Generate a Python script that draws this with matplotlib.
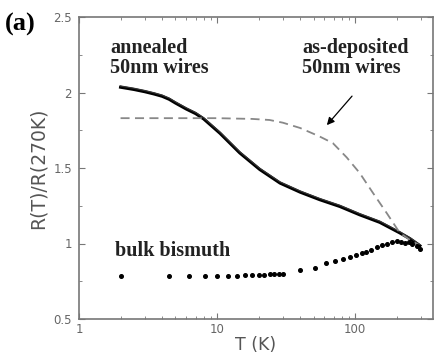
import numpy as np
import matplotlib.pyplot as plt
from matplotlib.ticker import MultipleLocator, NullFormatter

# annealed 50nm wires (solid)
t_ann = [2, 2.5, 3, 3.5, 4, 4.5, 5, 6, 7, 8, 10.5, 14.6, 20.4, 28.6, 40, 55.5, 77.6, 108, 151, 211, 251, 295]
r_ann = [2.035, 2.02, 2.005, 1.99, 1.975, 1.955, 1.93, 1.89, 1.86, 1.825, 1.73, 1.60, 1.49, 1.40, 1.34, 1.29,
         1.245, 1.19, 1.14, 1.07, 1.03, 0.985]

# as-deposited 50nm wires (dashed)
t_dep = [2, 5, 10, 18, 24, 30, 40, 55, 69, 87, 108, 135, 170, 211, 251, 290]
r_dep = [1.83, 1.83, 1.83, 1.825, 1.818, 1.80, 1.765, 1.71, 1.665, 1.57, 1.467, 1.334, 1.20, 1.07, 1.023, 0.99]

# bulk bismuth (dots)
t_bulk = [2, 4.5, 6.3, 8.2, 10, 12, 14, 16, 18, 20, 22, 24, 26, 28, 30,
          40, 51, 62, 72, 82, 92, 101, 112, 121, 131, 143, 156, 170, 185, 200,
          215, 230, 245, 260, 280, 295]
r_bulk = [0.785, 0.785, 0.785, 0.785, 0.785, 0.785, 0.787, 0.789, 0.79, 0.792, 0.793, 0.795, 0.797, 0.799, 0.80,
          0.825, 0.84, 0.87, 0.886, 0.90, 0.91, 0.922, 0.935, 0.945, 0.96, 0.975, 0.99, 1.0, 1.01, 1.015,
          1.01, 1.005, 1.01, 1.0, 0.985, 0.965]

fig = plt.figure(figsize=(4.38, 3.54), dpi=100)
ax = fig.add_axes([79/438, 1 - 319/354, (433-79)/438, (319-17)/354])

grey = '#777777'
ax.plot(t_ann, r_ann, color='black', lw=2.2, solid_joinstyle='round')
ax.plot(t_ann, np.array(r_ann) + 0.008, color='#333333', lw=0.9)
ax.plot(t_dep, r_dep, color='#888888', lw=1.3, dashes=(5, 3))
ax.plot(t_bulk, r_bulk, 'o', color='black', ms=2.6, mec='black')

ax.set_xscale('log')
ax.set_xlim(1, 367)
ax.set_ylim(0.5, 2.5)
ax.yaxis.set_minor_locator(MultipleLocator(0.25))
ax.set_yticks([0.5, 1, 1.5, 2, 2.5])
ax.set_yticklabels(['0.5', '1', '1.5', '2', '2.5'])
ax.set_xticks([1, 10, 100])
ax.set_xticklabels(['1', '10', '100'])
ax.xaxis.set_minor_formatter(NullFormatter())

for s in ax.spines.values():
    s.set_color(grey)
    s.set_linewidth(1.2)
ax.tick_params(which='both', direction='in', top=True, right=True, color=grey,
               labelcolor='#666666', labelsize=8.5, pad=5)
ax.tick_params(axis='x', pad=3)
ax.tick_params(which='major', length=4)
ax.tick_params(which='minor', length=2.5)

ax.set_xlabel('T (K)', fontsize=12.5, color='#555555', labelpad=0)
ax.set_ylabel('R(T)/R(270K)', fontsize=13.5, color='#555555', labelpad=4)

serif = 'Liberation Serif'
fig.text(5/438, 1 - 13/354, '(a)', fontsize=19, fontweight='bold', family=serif, va='top')
ax.text(1.68, 2.36, 'annealed\n50nm wires', fontsize=14.5, fontweight='bold', family=serif,
        linespacing=1.0, va='top', color='#222222')
ax.text(41.4, 2.36, 'as-deposited\n50nm wires', fontsize=14.5, fontweight='bold', family=serif,
        linespacing=1.0, va='top', color='#222222')
ax.text(1.82, 1.015, 'bulk bismuth', fontsize=14.5, fontweight='bold', family=serif, va='top',
        color='#222222')
ax.annotate('', xy=(60.6, 1.77), xytext=(98, 1.99),
            arrowprops=dict(arrowstyle='-|>', color='black', lw=0.9, mutation_scale=11))

fig.savefig('out.png', dpi=100)
